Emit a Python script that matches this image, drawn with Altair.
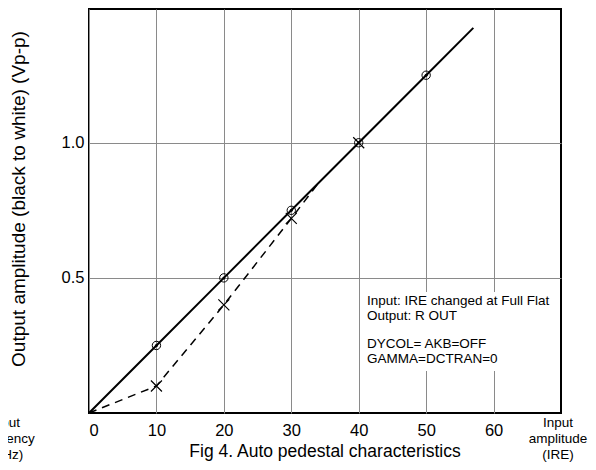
import altair as alt
import pandas as pd

# ---- data ----
solid_x = [0, 10, 20, 30, 40, 50, 57]
solid_y = [0, 0.25, 0.50, 0.75, 1.00, 1.25, 1.425]
dash_x = [0, 10, 20, 30, 34]
dash_y = [0, 0.10, 0.40, 0.72, 0.85]
circ_x = [10, 20, 30, 40, 50]
circ_y = [0.25, 0.50, 0.75, 1.00, 1.25]
cross_x = [10, 20, 30, 40]
cross_y = [0.10, 0.40, 0.72, 1.00]
x_ticks = [0, 10, 20, 30, 40, 50, 60]
y_ticks = [0.5, 1.0]
note_lines = ["Input: IRE changed at Full Flat", "Output: R OUT",
              "DYCOL= AKB=OFF", "GAMMA=DCTRAN=0"]
title_text = "Fig 4. Auto pedestal characteristics"
y_title = "Output amplitude (black to white) (Vp-p)"
x_unit = ["Input", "amplitude", "(IRE)"]
left_unit = ["Input", "frequency", "(MHz)"]

# ---- layout ----
W, H = 472, 404
FONT = "Liberation Sans"
note_py = [292, 307, 335, 350]

xs = alt.Scale(domain=[0, 70], nice=False, zero=False)
ys = alt.Scale(domain=[0, 1.495], nice=False, zero=False)

solid = pd.DataFrame({"x": solid_x, "y": solid_y})
dashed = pd.DataFrame({"x": dash_x, "y": dash_y})
circ = pd.DataFrame({"x": circ_x, "y": circ_y})
cross = pd.DataFrame({"x": cross_x, "y": cross_y})
notes = pd.DataFrame({"t": note_lines, "py": note_py})
one = pd.DataFrame({"a": [0]})

xaxis = alt.Axis(values=x_ticks, grid=True, gridColor="#8a8a8a", gridWidth=1,
                 ticks=False, domain=False, labelFontSize=16.5, labelFont=FONT,
                 labelColor="black", labelPadding=9, title=None, labelAngle=0)
yaxis = alt.Axis(values=y_ticks, grid=True, gridColor="#8a8a8a", gridWidth=1,
                 ticks=False, domain=False, labelFontSize=16.5, labelFont=FONT,
                 labelColor="black", labelPadding=5, title=None, format=".1f")

base_line = alt.Chart(solid).mark_line(color="black", strokeWidth=2).encode(
    x=alt.X("x:Q", scale=xs, axis=xaxis),
    y=alt.Y("y:Q", scale=ys, axis=yaxis),
)
dash_line = alt.Chart(dashed).mark_line(color="black", strokeWidth=1.5,
                                        strokeDash=[8, 6]).encode(
    x=alt.X("x:Q", scale=xs), y=alt.Y("y:Q", scale=ys))

white_box = alt.Chart(one).mark_rect(color="white").encode(
    x=alt.value(276), x2=alt.value(W - 1), y=alt.value(283), y2=alt.value(362))

circles = alt.Chart(circ).mark_point(shape="circle", size=70, filled=False,
                                     color="black", strokeWidth=1, opacity=1).encode(
    x=alt.X("x:Q", scale=xs), y=alt.Y("y:Q", scale=ys))
dots = alt.Chart(circ).mark_point(shape="circle", size=9, filled=True,
                                  color="black", opacity=1).encode(
    x=alt.X("x:Q", scale=xs), y=alt.Y("y:Q", scale=ys))
crosses = alt.Chart(cross).mark_point(shape="M-1,-1L1,1M1,-1L-1,1", size=121,
                                      filled=False, color="black",
                                      strokeWidth=1.2, opacity=1).encode(
    x=alt.X("x:Q", scale=xs), y=alt.Y("y:Q", scale=ys))

note_text = alt.Chart(notes).mark_text(align="left", baseline="middle",
                                       font=FONT, fontSize=13.5, color="black").encode(
    x=alt.value(278), y=alt.Y("py:Q", scale=None, axis=None), text="t:N")

title = alt.Chart(one).mark_text(text=title_text, align="center",
                                 baseline="alphabetic", font=FONT, fontSize=17.5,
                                 color="black").encode(
    x=alt.value(W / 2), y=alt.value(448))
ytitle = alt.Chart(one).mark_text(text=y_title, align="center", baseline="middle",
                                  angle=270, font=FONT, fontSize=19,
                                  color="black").encode(
    x=alt.value(-70), y=alt.value(190))
xunit = alt.Chart(one).mark_text(text=x_unit, align="center", baseline="middle",
                                 lineHeight=16, font=FONT, fontSize=13.5,
                                 color="black").encode(
    x=alt.value(469), y=alt.value(414))
lunit = alt.Chart(one).mark_text(text=left_unit, align="center", baseline="middle",
                                 lineHeight=16, font=FONT, fontSize=13.5,
                                 color="black").encode(
    x=alt.value(-84), y=alt.value(414))

chart = alt.layer(base_line, dash_line, white_box, circles, dots, crosses,
                  note_text, title, ytitle, xunit, lunit).properties(
    width=W, height=H,
    padding={"left": 81, "top": 1, "right": 27, "bottom": 49},
    autosize=alt.AutoSizeParams(type="none"),
).configure_view(stroke="black", strokeWidth=2)

chart.save("out.html", embed_options={"renderer": "svg", "actions": False})
